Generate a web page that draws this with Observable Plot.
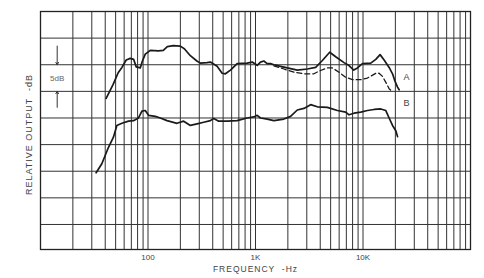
<!DOCTYPE html>
<html><head><meta charset="utf-8">
<script src="https://cdn.jsdelivr.net/npm/d3@7"></script>
<script src="https://cdn.jsdelivr.net/npm/@observablehq/plot@0.6"></script>
<style>body{margin:0;background:#fff;} svg{display:block;}</style>
</head><body><div id="chart"></div>
<script>
// Curve A (solid)
const freqA = [40.8, 47.4, 52.8, 57.2, 62.7, 68.3, 73.6, 77.7, 84.7, 88.4, 94.3, 105, 124.6, 138.8, 151.2, 171.9, 199.8, 217.8, 247.7, 284.8, 307, 354.5, 380.6, 439.5, 489.2, 525.2, 584.8, 675.1, 836.8, 931.6, 1037, 1113, 1195, 1285, 1380, 1482, 1711, 1975, 2447, 3034, 3627, 4188, 4898, 5570, 6658, 7413, 8200, 8878, 9883, 11810, 13150, 14420, 15720, 17500, 18820, 19770, 20960, 21690];
const dbA = [-16.3, -13.7, -11.5, -10.5, -9.1, -8.8, -9.0, -10.4, -10.6, -9.4, -8.0, -7.3, -7.4, -7.3, -6.6, -6.4, -6.5, -7.0, -8.3, -9.3, -9.7, -9.6, -9.5, -10.3, -11.6, -11.7, -11.0, -9.8, -9.7, -9.5, -10.1, -9.5, -9.3, -9.8, -9.8, -10.0, -10.3, -10.6, -11.0, -10.8, -10.5, -9.2, -7.65, -8.5, -9.6, -10.15, -11.0, -10.6, -9.8, -9.7, -9.0, -8.1, -9.1, -10.5, -11.7, -13.0, -14.2, -14.7];
// Curve A (dashed variant)
const freqA2 = [1482, 1836, 2276, 2820, 3496, 3893, 4662, 5190, 5980, 6906, 7973, 9528, 11000, 13150, 14110, 15190, 16300, 17500, 18150];
const dbA2 = [-10.2, -10.8, -11.4, -11.7, -11.7, -11.2, -10.6, -10.6, -11.4, -12.35, -12.8, -12.8, -12.5, -11.6, -11.6, -12.2, -13.3, -14.5, -14.8];
// Curve B
const freqB = [32.9, 37.2, 42.9, 47.7, 51.3, 57.2, 65.9, 73.3, 81.6, 87.8, 94.3, 101.2, 116.8, 130.1, 150.2, 186.2, 214.6, 247.7, 286, 329.6, 380.6, 408.6, 454.9, 544.6, 675.1, 836.8, 964, 1037, 1113, 1285, 1482, 1836, 2120, 2447, 2820, 3257, 3761, 4662, 5779, 6906, 7413, 8253, 9528, 11000, 12680, 14640, 16300, 17500, 18820, 20200, 20960];
const dbB = [-30.3, -28.6, -25.5, -23.6, -21.4, -21.0, -20.6, -20.5, -20.0, -18.7, -18.6, -19.5, -19.7, -20.0, -20.5, -21.0, -20.6, -21.4, -21.1, -20.8, -20.5, -20.1, -20.6, -20.6, -20.5, -20.0, -19.8, -19.5, -20.0, -20.2, -20.5, -20.2, -19.7, -18.5, -18.2, -17.5, -17.9, -18.0, -18.6, -18.9, -19.4, -19.1, -18.9, -18.6, -18.4, -18.3, -18.6, -20.0, -21.4, -22.4, -23.5];

const gridFreqs = [20,30,40,50,60,70,80,90,100,200,300,400,500,600,700,800,900,1000,2000,3000,4000,5000,6000,7000,8000,9000,10000,20000,30000,40000,50000,60000,70000,80000,90000];
const gridDb = [-5,-10,-15,-20,-25,-30,-35,-40];
const tickValues = [100, 1000, 10000];
const tickLabels = ["100", "1K", "10K"];
const curveLabels = ["A", "B"];
const curveLabelFreq = [25400, 25400];
const curveLabelDb = [-12.35, -17.2];
const xTitle = "FREQUENCY  -Hz";
const yTitle = "RELATIVE OUTPUT  -dB";
const spanLabel = "5dB";
const spanFreq = 14.3;
const spanTop = [-6.5, -10];
const spanBottom = [-18, -15];

const toRows = (f, d) => f.map((x, i) => ({f: x, db: d[i]}));

const chart = Plot.plot({
  width: 484, height: 278,
  marginTop: 11, marginBottom: 29, marginLeft: 40, marginRight: 14,
  style: {background: "#fff", fontFamily: "'Liberation Sans', 'DejaVu Sans', sans-serif"},
  x: {type: "log", domain: [10, 100000], axis: null},
  y: {domain: [-44.7, 0], axis: null},
  marks: [
    Plot.ruleX(gridFreqs, {stroke: "#333", strokeWidth: 1}),
    Plot.ruleY(gridDb, {stroke: "#333", strokeWidth: 1}),
    Plot.frame({stroke: "#222", strokeWidth: 1.3}),
    Plot.axisX({ticks: tickValues, tickFormat: d => tickLabels[tickValues.indexOf(d)], tickSize: 0, tickPadding: 5, label: null, fontSize: 8, fill: "#444"}),
    Plot.line(toRows(freqA, dbA), {x: "f", y: "db", stroke: "#1a1a1a", strokeWidth: 1.7}),
    Plot.line(toRows(freqA2, dbA2), {x: "f", y: "db", stroke: "#1a1a1a", strokeWidth: 1.3, strokeDasharray: "5,3"}),
    Plot.line(toRows(freqB, dbB), {x: "f", y: "db", stroke: "#1a1a1a", strokeWidth: 1.7}),
    Plot.text(curveLabels, {x: (d, i) => curveLabelFreq[i], y: (d, i) => curveLabelDb[i], text: d => d, fontSize: 9, fill: "#444"}),
    Plot.text([spanLabel], {x: () => spanFreq, y: () => (spanTop[1] + spanBottom[1]) / 2, text: d => d, fontSize: 8, fill: "#666"}),
    Plot.arrow([0], {x1: () => spanFreq, x2: () => spanFreq, y1: () => spanTop[0], y2: () => spanTop[1], stroke: "#333", strokeWidth: 1, headLength: 4}),
    Plot.arrow([0], {x1: () => spanFreq, x2: () => spanFreq, y1: () => spanBottom[0], y2: () => spanBottom[1], stroke: "#333", strokeWidth: 1, headLength: 4}),
    Plot.text([xTitle], {frameAnchor: "bottom", dy: 22, textAnchor: "middle", text: d => d, fontSize: 8.5, fill: "#444"}),
    Plot.text([yTitle], {frameAnchor: "left", dx: -11, dy: 4, rotate: -90, textAnchor: "middle", text: d => d, fontSize: 9, fill: "#444"})
  ]
});
document.getElementById("chart").appendChild(chart);
d3.select(chart).selectAll("text").each(function() {
  const t = this.textContent;
  if (t === xTitle || t === yTitle) d3.select(this).attr("letter-spacing", "1").style("white-space", "pre");
});
</script>
</body></html>
